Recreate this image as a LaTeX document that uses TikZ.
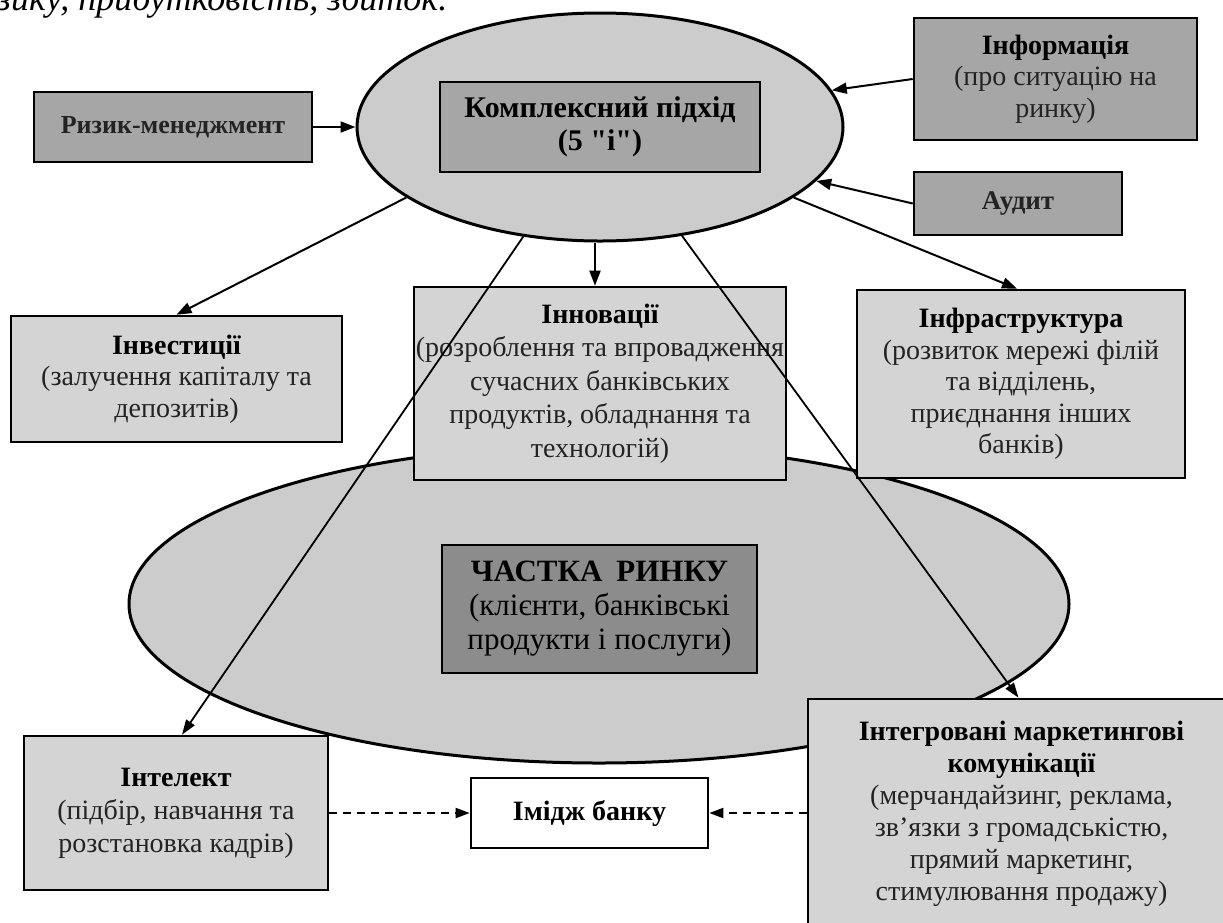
\documentclass[tikz,border=0pt]{standalone}
\usepackage{fontspec}
\setmainfont{Liberation Serif}[Ligatures=TeXOff]
\usetikzlibrary{arrows.meta,shapes.geometric}
\definecolor{ellfill}{RGB}{204,204,204}
\definecolor{lightfill}{RGB}{212,212,212}
\definecolor{midfill}{RGB}{166,166,166}
\definecolor{darkfill}{RGB}{140,140,140}
\definecolor{bodytext}{RGB}{35,35,35}
\begin{document}
\begin{tikzpicture}[x=1pt,y=-1pt,
  bx/.style={draw=black, line width=2.6pt, rectangle, inner sep=0pt, align=center, text=bodytext,
             font=\fontsize{28}{31.5}\selectfont},
  lightbx/.style={bx, fill=lightfill},
  midbx/.style={bx, fill=midfill},
  ell/.style={draw=black, line width=3pt, ellipse, fill=ellfill, inner sep=0pt},
  arr/.style={line width=2pt, -{Triangle[length=15pt,width=11pt]}},
  longarr/.style={line width=1.8pt, -{Triangle[length=15pt,width=10pt]}},
  dasharr/.style={line width=2pt, dash pattern=on 8pt off 6pt, -{Triangle[length=14pt,width=10pt]}},
]
\useasboundingbox (0,0) rectangle (1223,922);
\clip (0,0) rectangle (1223,922);

% header text (cut off at the top)
\node[anchor=base west, inner sep=0pt, font=\fontsize{36}{40}\selectfont\itshape] (head) at (-3,10) {зику, прибутковість, збиток.};

% ellipses
\node[ell, minimum width=940pt, minimum height=318pt] (bottom) at (599,604) {};
\node[ell, minimum width=486pt, minimum height=228pt] (top) at (600,127) {};

% boxes
\node[midbx, minimum width=320pt, minimum height=90pt, text=black, font=\fontsize{30}{33}\selectfont\bfseries] (kompl) at (600,127) {Комплексний підхід\\(5 "і")};
\node[midbx, minimum width=278pt, minimum height=70pt, font=\fontsize{26}{29}\selectfont\bfseries] (risk) at (173,127) {Ризик-менеджмент};
\node[midbx, minimum width=283pt, minimum height=122pt] (inform) at (1055.5,79) {\textbf{\color{black}Інформація}\\(про ситуацію на\\ринку)};
\node[midbx, minimum width=208pt, minimum height=63pt, font=\fontsize{27}{29}\selectfont\bfseries] (audit) at (1018,203.5) {Аудит};

\node[lightbx, minimum width=331pt, minimum height=126pt] (invest) at (176.5,379) {\textbf{\color{black}Інвестиції}\\(залучення капіталу та\\депозитів)};
\node[lightbx, minimum width=372pt, minimum height=193pt, font=\fontsize{28}{33.5}\selectfont] (innov) at (600,383.5) {\textbf{\color{black}Інновації}\\(розроблення та впровадження\\сучасних банківських\\продуктів, обладнання та\\технологій)};
\node[lightbx, minimum width=328pt, minimum height=188pt] (infra) at (1021,384) {\textbf{\color{black}Інфраструктура}\\(розвиток мережі філій\\та відділень,\\приєднання інших\\банків)};

\node[bx, fill=darkfill, minimum width=315pt, minimum height=128pt, text=black, font=\fontsize{31}{34}\selectfont] (chastka) at (599.5,609) {\textbf{ЧАСТКА\hspace{0.45em}РИНКУ}\\(клієнти, банківські\\продукти і послуги)};

\node[lightbx, minimum width=304pt, minimum height=154pt, font=\fontsize{28}{33}\selectfont] (intel) at (176,813) {\textbf{\color{black}Інтелект}\\(підбір, навчання та\\розстановка кадрів)};
\node[bx, fill=white, minimum width=237pt, minimum height=70pt, text=black, font=\fontsize{28}{31}\selectfont\bfseries] (imidzh) at (589.5,813) {Імідж банку};
\node[lightbx, minimum width=427pt, minimum height=230pt, font=\fontsize{28}{32}\selectfont] (imk) at (1021.5,814) {\textbf{\color{black}Інтегровані маркетингові}\\\textbf{\color{black}комунікації}\\(мерчандайзинг, реклама,\\зв’язки з громадськістю,\\прямий маркетинг,\\стимулювання продажу)};

% connectors
\draw[arr] (risk.east) -- (top.180);
\draw[arr] (inform.west) -- (top.9.3);
\draw[arr] (audit.west) -- (top.-14.4);
\draw[arr] (top.200.5) -- (invest.north);
\draw[arr] ([xshift=-5pt]innov.north |- top.south) -- ([xshift=-5pt]innov.north);
\draw[arr] (top.-20.5) -- ([xshift=-4pt]infra.north);
\draw[longarr] (top.235.3) -- ([xshift=6pt]intel.north);
\draw[longarr] (top.-53.2) -- ([xshift=-3pt]imk.north);
\draw[dasharr] (intel.east) -- (imidzh.west);
\draw[dasharr] (imk.west |- imidzh.east) -- (imidzh.east);
\end{tikzpicture}
\end{document}
